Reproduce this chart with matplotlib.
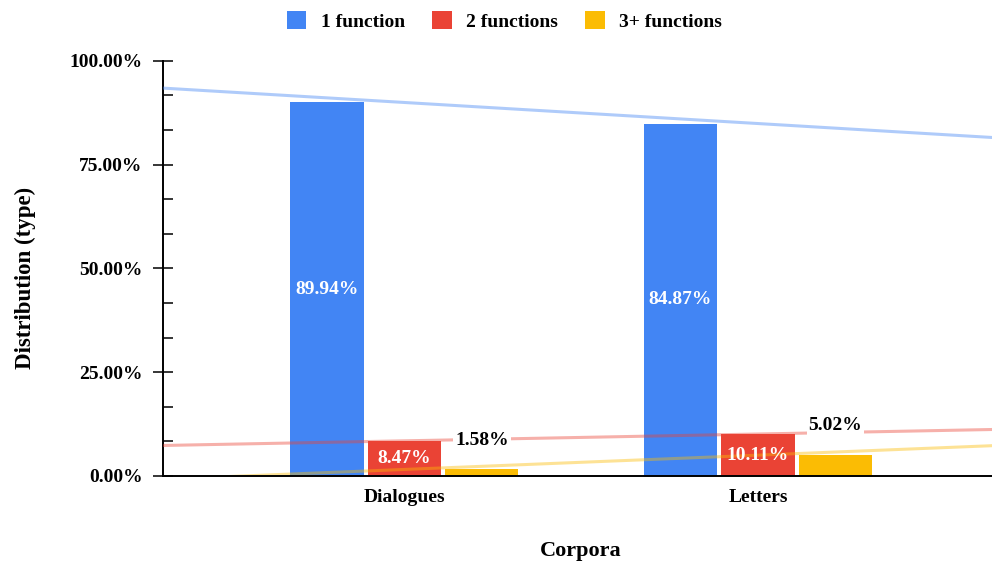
import numpy as np
import matplotlib.pyplot as plt
from matplotlib.patches import Patch
from matplotlib.ticker import MultipleLocator, PercentFormatter

plt.rcParams['font.family'] = ['Liberation Serif', 'DejaVu Serif']
plt.rcParams['font.weight'] = 'bold'

corpora = ['Dialogues', 'Letters']
series = ['1 function', '2 functions', '3+ functions']
one_func = [89.94, 84.87]
two_func = [8.47, 10.11]
three_func = [1.58, 5.02]
colors = ['#4285F4', '#EA4335', '#FBBC04']

fig = plt.figure(figsize=(9.92, 5.65), dpi=100)
ax = fig.add_axes([163 / 992, 89 / 565, 836 / 992, 415.3 / 565])

x = np.arange(len(corpora))
width = 0.207
offsets = [-0.219, 0.0, 0.219]
xlim = (-0.683, 1.682)

for vals, off, col in zip([one_func, two_func, three_func], offsets, colors):
    bars = ax.bar(x + off, vals, width, color=col, zorder=2)

    # linear trendline across the whole plot area
    k, b = np.polyfit(x, vals, 1)
    xs = np.array(xlim)
    ax.plot(xs, k * xs + b, color=col, alpha=0.42, lw=2.2, zorder=3,
            solid_capstyle='butt')

    for bar, v in zip(bars, vals):
        cx = bar.get_x() + bar.get_width() / 2
        if v > 7:
            ax.text(cx, v / 2, f'{v:.2f}%', ha='center', va='center',
                    color='white', fontsize=14, fontweight='bold', zorder=5)
        else:
            ax.annotate(f'{v:.2f}%', (cx, v), xytext=(0, 21),
                        textcoords='offset points', ha='center', va='center',
                        fontsize=14, fontweight='bold', color='black', zorder=5,
                        bbox=dict(boxstyle='square,pad=0.1', fc='white', ec='none'))

ax.set_xlim(*xlim)
ax.set_ylim(0, 100)
ax.set_xticks(x)
ax.set_xticklabels(corpora, fontsize=14, fontweight='bold')
ax.tick_params(axis='x', length=0, pad=9)

ax.yaxis.set_major_locator(MultipleLocator(25))
ax.yaxis.set_minor_locator(MultipleLocator(25 / 3))
ax.yaxis.set_major_formatter(PercentFormatter(decimals=2))
ax.tick_params(axis='y', which='major', direction='inout', length=13.7,
               width=1.1, pad=8, labelsize=14)
ax.tick_params(axis='y', which='minor', direction='in', length=7.2, width=1.1)
for lab in ax.get_yticklabels():
    lab.set_fontweight('bold')

for side in ['top', 'right']:
    ax.spines[side].set_visible(False)
ax.spines['left'].set_linewidth(1.4)
ax.spines['bottom'].set_linewidth(1.4)
ax.spines['bottom'].set_zorder(4)

fig.text(25 / 992, 1 - 278 / 565, 'Distribution (type)', rotation=90,
         ha='center', va='center', fontsize=16.5, fontweight='bold')
fig.text(581 / 992, 1 - 551 / 565, 'Corpora', ha='center', va='center',
         fontsize=16, fontweight='bold')

handles = [Patch(facecolor=c, edgecolor='none') for c in colors]
leg = fig.legend(handles, series, loc='center', ncol=3,
                 bbox_to_anchor=(504.5 / 992, 1 - 21 / 565), frameon=False,
                 prop={'size': 14, 'weight': 'bold'}, handlelength=1.0,
                 handleheight=1.0, handletextpad=0.75, columnspacing=1.4)

fig.savefig('out.png', dpi=100)
